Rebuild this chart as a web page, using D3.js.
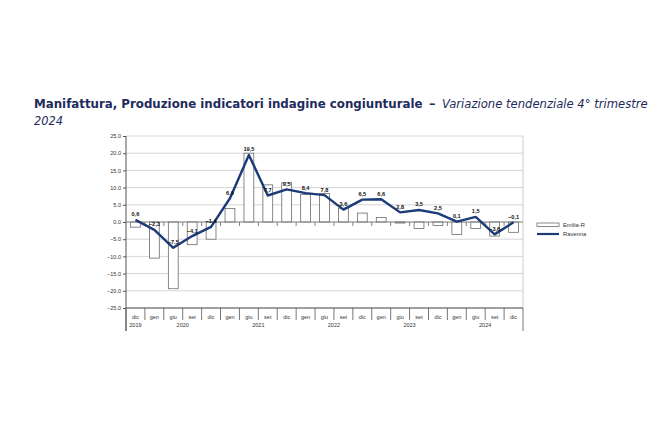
<!DOCTYPE html>
<html lang="it">
<head>
<meta charset="utf-8"/>
<title>Manifattura - Produzione</title>
<script src="https://cdn.jsdelivr.net/npm/d3@7"></script>
<style>
  body { margin: 0; background: #fff; }
  svg text { font-family: "Liberation Sans", Arial, sans-serif; }
  svg text.title { font-family: "DejaVu Sans", Verdana, sans-serif; }
</style>
</head>
<body>
<svg id="chart" width="660" height="440"></svg>
<script>
// periodi (trimestri) e anni
const periods = ['dic','gen','giu','set','dic','gen','giu','set','dic','gen','giu','set','dic',
                 'gen','giu','set','dic','gen','giu','set','dic']
const years = ['2019','2020','2021','2022','2023','2024']
const yearSize = [1, 4, 4, 4, 4, 4]

// serie
const emilia = [-1.5, -10.5, -19.4, -6.6, -5.0, 3.9, 20.0, 10.8, 11.4, 8.0, 8.3, 4.0, 2.6,
                1.3, -0.3, -1.9, -1.0, -3.6, -1.9, -4.1, -3.0]
const ravenna = [0.6, -2.3, -7.5, -4.1, -1.4, 6.9, 19.5, 7.7, 9.5, 8.4, 7.8, 3.6, 6.5,
                 6.6, 2.8, 3.5, 2.5, 0.1, 1.5, -3.6, -0.1]
const yTicks = [-25, -20, -15, -10, -5, 0, 5, 10, 15, 20, 25]

const svg = d3.select('#chart')
const navy = '#1b3a78'

// titolo: ogni pezzo viene stretto orizzontalmente fino alla larghezza voluta
const title = svg.append('g').attr('fill', '#1e2b5c')
function titlePart(txt, x0, y0, w, bold, italic) {
  const t = title.append('text').attr('class', 'title')
    .attr('font-size', 13)
    .attr('font-weight', bold ? 'bold' : 'normal')
    .attr('font-style', italic ? 'italic' : 'normal')
    .text(txt)
  const natural = t.node().getComputedTextLength()
  const sx = w ? w / natural : 1
  t.attr('transform', `translate(${x0},${y0}) scale(${sx},1)`)
}
titlePart('Manifattura, Produzione indicatori indagine congiunturale', 34, 108, 389, true, false)
titlePart('\u2013', 429, 108, 0, true, false)
titlePart('Variazione tendenziale 4\u00b0 trimestre', 442, 108, 206, false, true)
titlePart('2024', 34, 125, 29, false, true)

// scale
const x = d3.scaleBand().domain(d3.range(periods.length)).range([126, 523])
const y = d3.scaleLinear().domain([-25, 25]).range([308, 136])
const bw = x.bandwidth()

// griglia
svg.append('g')
  .selectAll('line')
  .data(yTicks)
  .enter()
  .append('line')
  .attr('x1', 126).attr('x2', 523)
  .attr('y1', d => y(d)).attr('y2', d => y(d))
  .attr('stroke', '#d6d6d6').attr('stroke-width', 1)

// bordo destro
svg.append('line')
  .attr('x1', 523).attr('x2', 523).attr('y1', y(25)).attr('y2', y(-25))
  .attr('stroke', '#cfcfcf')

// asse y
const yAxis = svg.append('g')
  .attr('transform', 'translate(126,0)')
  .call(d3.axisLeft(y).tickValues(yTicks).tickSize(3).tickPadding(2)
    .tickFormat(d3.format('.1f')))
yAxis.select('.domain').attr('stroke', '#555').attr('d', `M0,${y(25)}V331`)
yAxis.selectAll('.tick line').attr('stroke', '#555')
yAxis.selectAll('.tick text').attr('font-size', 5.5).attr('fill', '#333')

// barre Emilia-R
svg.append('g')
  .selectAll('rect')
  .data(emilia)
  .enter()
  .append('rect')
  .attr('x', (d, i) => x(i) + bw * 0.24)
  .attr('width', bw * 0.52)
  .attr('y', d => y(Math.max(0, d)))
  .attr('height', d => Math.abs(y(d) - y(0)))
  .attr('fill', '#fff')
  .attr('stroke', '#6b6b6b')
  .attr('stroke-width', 0.8)

// linea dello zero con tacche
svg.append('line')
  .attr('x1', 126).attr('x2', 523).attr('y1', y(0)).attr('y2', y(0))
  .attr('stroke', '#777').attr('stroke-width', 0.8)
svg.append('g')
  .selectAll('line')
  .data(d3.range(1, periods.length))
  .enter()
  .append('line')
  .attr('x1', i => x(i)).attr('x2', i => x(i))
  .attr('y1', y(0)).attr('y2', y(0) + 4)
  .attr('stroke', '#666').attr('stroke-width', 0.8)

// linea Ravenna
const line = d3.line()
  .x((d, i) => x(i) + bw / 2)
  .y(d => y(d))
svg.append('path')
  .datum(ravenna)
  .attr('d', line)
  .attr('fill', 'none')
  .attr('stroke', navy)
  .attr('stroke-width', 2.4)
  .attr('stroke-linejoin', 'round')

// etichette
svg.append('g')
  .selectAll('text')
  .data(ravenna)
  .enter()
  .append('text')
  .attr('x', (d, i) => x(i) + bw / 2)
  .attr('y', d => y(d) - 3.5)
  .attr('text-anchor', 'middle')
  .attr('font-size', 5.6)
  .attr('font-weight', 'bold')
  .attr('fill', '#111')
  .text(d => d3.format('.1f')(d).replace('.', ','))

// asse categorie
svg.append('line')
  .attr('x1', 126).attr('x2', 523).attr('y1', 308).attr('y2', 308)
  .attr('stroke', '#555')
svg.append('g')
  .selectAll('line')
  .data(d3.range(periods.length + 1))
  .enter()
  .append('line')
  .attr('x1', i => i === periods.length ? 523 : x(i))
  .attr('x2', i => i === periods.length ? 523 : x(i))
  .attr('y1', 308)
  .attr('y2', i => (i === 0 || i === periods.length) ? 331 : 320)
  .attr('stroke', '#555').attr('stroke-width', 0.8)

svg.append('g')
  .selectAll('text')
  .data(periods)
  .enter()
  .append('text')
  .attr('x', (d, i) => x(i) + bw / 2)
  .attr('y', 319)
  .attr('text-anchor', 'middle')
  .attr('font-size', 5.5)
  .attr('fill', '#333')
  .text(d => d)

let start = 0
const yearPos = years.map((yr, k) => {
  const s = start
  start += yearSize[k]
  return { yr, mid: (x(s) + x(s + yearSize[k] - 1) + bw) / 2 }
})
svg.append('g')
  .selectAll('text')
  .data(yearPos)
  .enter()
  .append('text')
  .attr('x', d => d.mid)
  .attr('y', 327)
  .attr('text-anchor', 'middle')
  .attr('font-size', 5.5)
  .attr('fill', '#333')
  .text(d => d.yr)

// legenda
const legend = svg.append('g')
legend.append('rect')
  .attr('x', 537).attr('y', 223).attr('width', 22).attr('height', 3.5)
  .attr('fill', '#fff').attr('stroke', '#6b6b6b').attr('stroke-width', 0.8)
legend.append('line')
  .attr('x1', 537).attr('x2', 559).attr('y1', 234).attr('y2', 234)
  .attr('stroke', navy).attr('stroke-width', 2.2)
legend.append('text')
  .attr('x', 563).attr('y', 226.8).attr('font-size', 5.8).attr('fill', '#333')
  .text('Emilia-R')
legend.append('text')
  .attr('x', 563).attr('y', 236).attr('font-size', 5.8).attr('fill', '#333')
  .text('Ravenna')
</script>
</body>
</html>
